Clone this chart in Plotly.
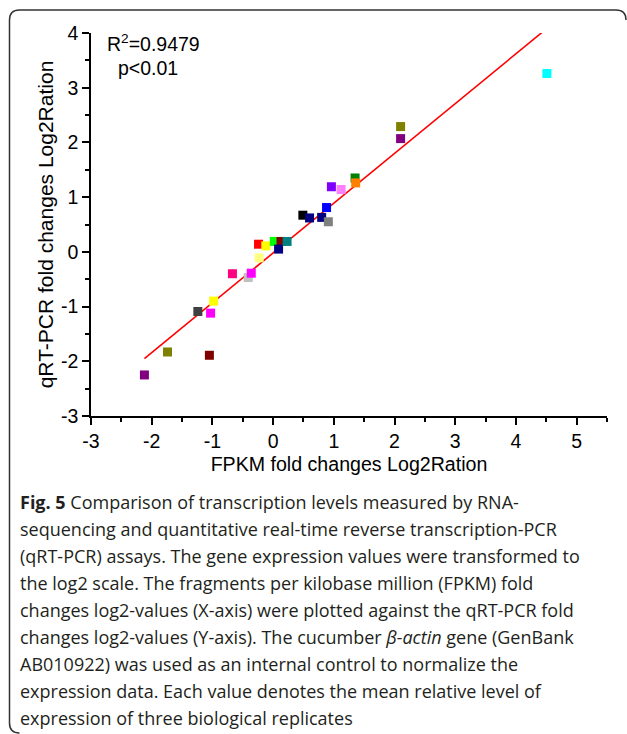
import plotly.graph_objects as go

# ---- data ----
FPKM_LOG2 = [-2.12, -1.74, -1.05, -1.24, -1.03, -0.98, -0.67, -0.41, -0.36, -0.23,
             -0.24, -0.12, 0.02, 0.13, 0.09, 0.23, 0.49, 0.60, 0.80, 0.91,
             0.88, 0.96, 1.12, 1.35, 1.36, 2.10, 2.10, 4.51]
QPCR_LOG2 = [-2.25, -1.83, -1.89, -1.09, -1.12, -0.90, -0.40, -0.47, -0.39, -0.11,
             0.14, 0.11, 0.19, 0.19, 0.05, 0.19, 0.67, 0.62, 0.63, 0.55,
             0.81, 1.19, 1.14, 1.35, 1.26, 2.29, 2.07, 3.26]
POINT_COLORS = ["#800080", "#808000", "#800000", "#404040", "#ff00ff", "#ffff00", "#ff0080", "#c0c0c0", "#ff00ff", "#ffff80",
                "#ff0000", "#ffff00", "#00ff00", "#800000", "#000080", "#008080", "#000000", "#000080", "#000080", "#808080",
                "#0000ff", "#8000ff", "#ff80ff", "#008000", "#ff8000", "#808000", "#800080", "#00ffff"]

FIT_SLOPE = 0.91
FIT_INTERCEPT = -0.02

X_TICKS = [-3, -2, -1, 0, 1, 2, 3, 4, 5]
X_TICK_LABELS = ["-3", "-2", "-1", "0", "1", "2", "3", "4", "5"]
Y_TICKS = [-3, -2, -1, 0, 1, 2, 3, 4]
Y_TICK_LABELS = ["-3", "-2", "-1", "0", "1", "2", "3", "4"]

X_TITLE = "FPKM fold changes Log2Ration"
Y_TITLE = "qRT-PCR fold changes Log2Ration"
STAT_LINES = ["R<sup>2</sup>=0.9479", "p<0.01"]

CAPTION_LINES = [
    "<b>Fig. 5</b> Comparison of transcription levels measured by RNA-",
    "sequencing and quantitative real-time reverse transcription-PCR",
    "(qRT-PCR) assays. The gene expression values were transformed to",
    "the log2 scale. The fragments per kilobase million (FPKM) fold",
    "changes log2-values (X-axis) were plotted against the qRT-PCR fold",
    "changes log2-values (Y-axis). The cucumber <i>β-actin</i> gene (GenBank",
    "AB010922) was used as an internal control to normalize the",
    "expression data. Each value denotes the mean relative level of",
    "expression of three biological replicates",
]

# ---- layout geometry (pixels) ----
W, H = 627, 734
L, R, T, B = 91, 20, 33, 318
PW, PH = W - L - R, H - T - B

def px2paper_x(px):
    return (px - L) / PW

def px2paper_y(py):
    return (H - B - py) / PH

FONT = "Liberation Sans, Arial, sans-serif"
CAP_FONT = "Open Sans, Noto Sans, sans-serif"

fig = go.Figure()

x0, x1 = min(FPKM_LOG2), max(FPKM_LOG2)
fig.add_trace(go.Scatter(
    x=[x0, x1], y=[FIT_SLOPE * x0 + FIT_INTERCEPT, FIT_SLOPE * x1 + FIT_INTERCEPT],
    mode="lines", line=dict(color="#ff0000", width=1.6), showlegend=False, hoverinfo="skip"))

fig.add_trace(go.Scatter(
    x=FPKM_LOG2, y=QPCR_LOG2, mode="markers",
    marker=dict(symbol="square", size=9, color=POINT_COLORS, line=dict(width=0)),
    showlegend=False))

axis_common = dict(
    showline=True, linecolor="#000000", linewidth=1.5, mirror=False,
    ticks="outside", ticklen=7, tickwidth=1.5, tickcolor="#000000",
    showgrid=False, zeroline=False,
    tickfont=dict(family=FONT, size=19.5, color="#000000"),
)

fig.update_xaxes(range=[-3, 5.5], tickmode="array", tickvals=X_TICKS, ticktext=X_TICK_LABELS,
                 minor=dict(dtick=0.5, tick0=-3, ticklen=4, ticks="outside", tickcolor="#000000", tickwidth=1.5),
                 title=dict(text=X_TITLE, font=dict(family=FONT, size=19.6, color="#000000"), standoff=6),
                 **axis_common)
fig.update_yaxes(range=[-3, 4], tickmode="array", tickvals=Y_TICKS, ticktext=Y_TICK_LABELS,
                 minor=dict(dtick=0.5, tick0=-3, ticklen=4, ticks="outside", tickcolor="#000000", tickwidth=1.5),
                 title=dict(text=Y_TITLE, font=dict(family=FONT, size=21, color="#000000"), standoff=2),
                 **axis_common)

annotations = []
stat_y = [43, 68]
stat_x = [105, 116]
for txt, sx, sy in zip(STAT_LINES, stat_x, stat_y):
    annotations.append(dict(text=txt, xref="paper", yref="paper", x=px2paper_x(sx), y=px2paper_y(sy),
                            xanchor="left", yanchor="middle", showarrow=False,
                            font=dict(family=FONT, size=19.5, color="#000000")))

cap_top = 502
cap_step = 27
for i, line in enumerate(CAPTION_LINES):
    annotations.append(dict(text=line, xref="paper", yref="paper",
                            x=px2paper_x(18), y=px2paper_y(cap_top + i * cap_step),
                            xanchor="left", yanchor="middle", showarrow=False,
                            font=dict(family=CAP_FONT, size=18, color="#231f20")))

# rounded frame around figure + caption
r = 10
fx0, fy0, fx1, fy1 = 9.5, 10, 626, 733
def P(px, py):
    return f"{px2paper_x(px):.5f},{px2paper_y(py):.5f}"
path = (f"M {P(fx0 + r, fy1)} Q {P(fx0, fy1)} {P(fx0, fy1 - r)} L {P(fx0, fy0 + r)} "
        f"Q {P(fx0, fy0)} {P(fx0 + r, fy0)} L {P(fx1 - r, fy0)} Q {P(fx1, fy0)} {P(fx1, fy0 + r)}")
shapes = [dict(type="path", path=path, xref="paper", yref="paper",
               line=dict(color="#333333", width=1.5))]

fig.update_layout(
    width=W, height=H, margin=dict(l=L, r=R, t=T, b=B),
    paper_bgcolor="#ffffff", plot_bgcolor="#ffffff",
    annotations=annotations, shapes=shapes,
)

fig.write_html("out.html")
